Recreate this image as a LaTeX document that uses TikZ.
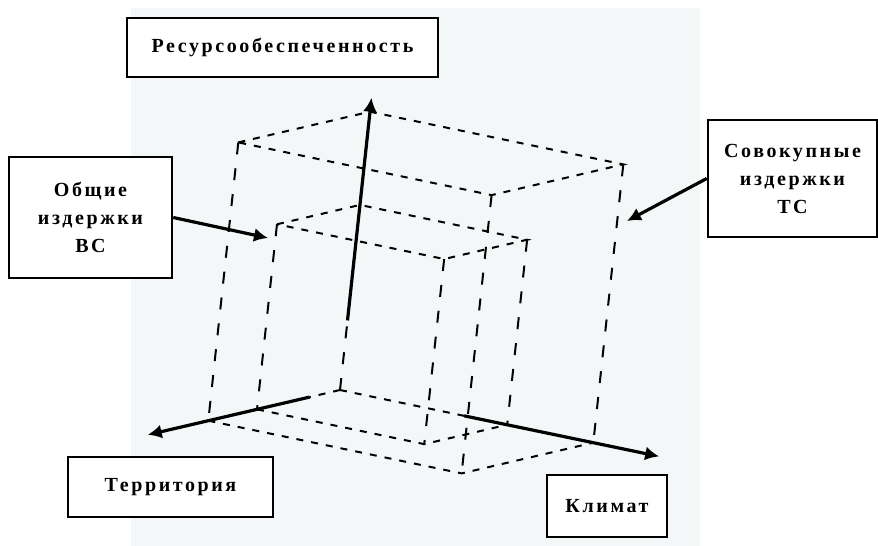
\documentclass[tikz,border=0pt]{standalone}
\usepackage{fontspec}
\setmainfont{Liberation Serif}[LetterSpace=13]
\usetikzlibrary{arrows.meta}

\definecolor{paper}{RGB}{244,247,248}

\begin{document}
\begin{tikzpicture}[x=1pt, y=-1pt,
  tag/.style={draw, line width=2.5pt, fill=white, align=center, inner sep=0pt,
    font=\fontsize{20}{28}\selectfont\bfseries},
  axis/.style={line width=3.2pt, -{Latex[length=14pt,width=14pt]}},
  edge/.style={line width=2pt, dash pattern=on 7pt off 8pt},
  riser/.style={line width=2pt, dash pattern=on 12pt off 14pt}]
  \useasboundingbox (0,0) rectangle (878,546);
  \fill[paper] (131,8) rectangle (700,546);

  % the two cuboids, drawn along the three axes
  \begin{scope}[shift={(340,390)},
      x={(-131.7pt,-30.7pt)}, y={(253.3pt,-52.7pt)}, z={(30pt,278.3pt)}]
    \coordinate (O) at (0,0,0);
    \foreach \a/\b/\c in {1/1/1, 0.63/0.66/0.665} {
      \draw[edge] (\a,0,\c) -- (0,0,\c) -- (0,\b,\c) -- (\a,\b,\c) -- cycle;
      \draw[riser] (\a,0,\c) -- (\a,0,0);
      \draw[riser] (\a,\b,\c) -- (\a,\b,0);
      \draw[riser] (0,\b,\c) -- (0,\b,0);
      \draw[edge] (\a,0,0) -- (\a,\b,0) -- (0,\b,0);
    }
    \coordinate (ter0) at (0.23,0,0);
    \coordinate (ter1) at (1.46,0,0);
    \coordinate (kl0) at (0,0.49,0);
    \coordinate (kl1) at (0,1.26,0);
    \coordinate (res0) at (0,0,0.25);
    \coordinate (res1) at (0,0,1.05);
  \end{scope}

  % axes
  \draw[edge] (O) -- (ter0);
  \draw[edge] (O) -- (kl0);
  \draw[riser] (O) -- (res0);
  \draw[axis] (ter0) -- (ter1);
  \draw[axis] (kl0) -- (kl1);
  \draw[axis] (res0) -- (res1);

  % labels
  \node[tag, minimum width=311, minimum height=59] (res) at (282.5,47.5)
    {Ресурсообеспеченность};
  \node[tag, minimum width=163, minimum height=121] (vs) at (90.5,217.5)
    {Общие\\издержки\\ВС};
  \node[tag, minimum width=169, minimum height=117] (ts) at (792.5,178.5)
    {Совокупные\\издержки\\ТС};
  \node[tag, minimum width=205, minimum height=60] (ter) at (170.5,487)
    {Территория};
  \node[tag, minimum width=120, minimum height=62] (kl) at (607,506)
    {Климат};

  \coordinate (vs pt) at (268,238);
  \coordinate (ts pt) at (627,221);
  \draw[axis] (vs.east) -- (vs pt);
  \draw[axis] (ts.west) -- (ts pt);
\end{tikzpicture}
\end{document}
